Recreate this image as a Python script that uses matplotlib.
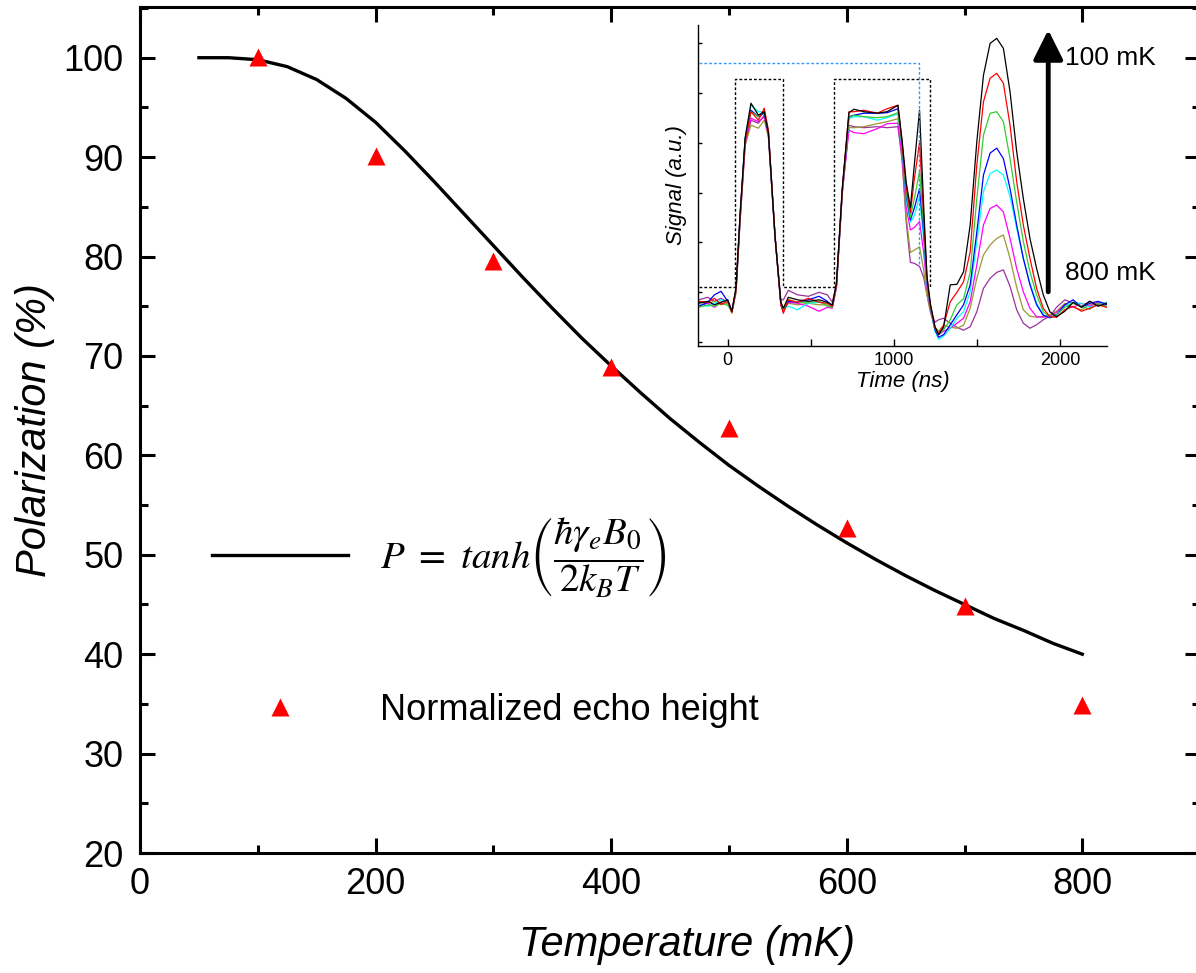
import matplotlib.pyplot as plt
from matplotlib.ticker import MultipleLocator

plt.rcParams['font.family'] = ['Liberation Sans', 'DejaVu Sans']
plt.rcParams['mathtext.fontset'] = 'stix'

# ---- main panel data ----
# fitted polarization curve
temp_fit = [50, 75, 100, 125, 150, 175, 200, 225, 250, 275, 300, 325, 350, 375, 400,
            425, 450, 475, 500, 525, 550, 575, 600, 625, 650, 675, 700, 725, 750, 775, 800]
pol_fit = [100.0, 100.0, 99.8, 99.1, 97.8, 95.9, 93.5, 90.6, 87.5, 84.3, 81.1, 77.9, 74.8, 71.8, 69.0,
           66.3, 63.7, 61.3, 59.0, 56.9, 54.9, 53.0, 51.2, 49.5, 47.9, 46.4, 45.0, 43.6, 42.4, 41.1, 40.0]

# measured echo heights
temp_meas = [100, 200, 300, 400, 500, 600, 700, 800]
pol_meas = [100.1, 90.1, 79.6, 68.9, 62.8, 52.7, 44.8, 34.9]

# ---- inset data ----
t_ns = [-175, -120, -80, -40, 0,
        25, 50, 75, 105, 140,
        185, 220, 245, 285, 320,
        335, 365, 420, 486, 550,
        600, 630, 655, 690, 730,
        760, 820, 900, 960, 1025,
        1050, 1075, 1100, 1125, 1155,
        1180, 1200, 1220, 1248, 1270,
        1300, 1340, 1380, 1420, 1460,
        1500, 1540, 1580, 1620, 1660,
        1700, 1740, 1780, 1820, 1860,
        1900, 1940, 1980, 2030, 2080,
        2130, 2180, 2230, 2280]

sig_100 = [0.78, 0.82, 0.75, 0.80, 0.85,
           0.62, 1.10, 2.60, 4.10, 4.79,
           4.55, 4.62, 4.20, 2.11, 0.80,
           0.68, 0.90, 0.85, 0.82, 0.85,
           0.80, 0.75, 1.20, 3.10, 4.60,
           4.67, 4.62, 4.59, 4.62, 4.75,
           4.05, 3.20, 2.70, 3.60, 4.65,
           2.72, 1.31, 0.78, 0.31, 0.15,
           0.30, 1.15, 1.16, 1.41, 2.35,
           4.02, 5.35, 5.99, 6.09, 5.89,
           5.02, 3.82, 2.88, 2.08, 1.48,
           0.95, 0.61, 0.51, 0.62, 0.80,
           0.70, 0.82, 0.72, 0.78]
sig_200 = [0.82, 0.80, 0.88, 0.76, 0.82,
           0.60, 1.05, 2.55, 4.05, 4.62,
           4.45, 4.69, 4.25, 2.15, 0.75,
           0.58, 0.85, 0.80, 0.88, 0.80,
           0.78, 0.72, 1.15, 3.05, 4.62,
           4.62, 4.65, 4.59, 4.68, 4.75,
           4.00, 3.10, 2.60, 3.30, 4.00,
           2.50, 1.30, 0.75, 0.30, 0.18,
           0.34, 0.81, 1.00, 1.21, 1.81,
           3.55, 4.82, 5.29, 5.39, 5.19,
           4.35, 3.22, 2.35, 1.68, 1.08,
           0.68, 0.51, 0.50, 0.65, 0.72,
           0.62, 0.68, 0.75, 0.70]
sig_300 = [0.70, 0.75, 0.72, 0.78, 0.74,
           0.62, 1.05, 2.55, 4.05, 4.62,
           4.52, 4.62, 4.22, 2.12, 0.78,
           0.65, 0.85, 0.80, 0.80, 0.82,
           0.72, 0.70, 1.15, 3.05, 4.50,
           4.55, 4.52, 4.50, 4.52, 4.60,
           3.95, 3.00, 2.50, 2.90, 3.42,
           2.30, 1.25, 0.72, 0.28, 0.15,
           0.25, 0.45, 0.75, 0.87, 1.40,
           2.88, 4.15, 4.59, 4.62, 4.42,
           3.68, 2.81, 2.02, 1.41, 0.95,
           0.61, 0.51, 0.55, 0.70, 0.78,
           0.72, 0.66, 0.78, 0.72]
sig_400 = [0.72, 0.80, 0.95, 1.02, 0.82,
           0.62, 1.05, 2.55, 4.05, 4.65,
           4.52, 4.59, 4.20, 2.12, 0.78,
           0.65, 0.82, 0.80, 0.85, 0.92,
           0.82, 0.72, 1.15, 3.05, 4.52,
           4.55, 4.59, 4.59, 4.60, 4.68,
           3.95, 2.95, 2.45, 2.70, 3.08,
           2.20, 1.22, 0.72, 0.25, 0.10,
           0.15, 0.35, 0.55, 0.75, 1.15,
           2.21, 3.35, 3.79, 3.89, 3.68,
           3.08, 2.35, 1.68, 1.15, 0.75,
           0.54, 0.49, 0.55, 0.75, 0.85,
           0.70, 0.78, 0.82, 0.76]
sig_500 = [0.75, 0.72, 0.78, 0.85, 0.80,
           0.62, 1.05, 2.55, 4.10, 4.75,
           4.62, 4.62, 4.22, 2.12, 0.78,
           0.68, 0.72, 0.65, 0.78, 0.80,
           0.78, 0.72, 1.15, 3.05, 4.48,
           4.52, 4.52, 4.45, 4.50, 4.58,
           3.90, 2.85, 2.40, 2.55, 2.92,
           2.05, 1.18, 0.70, 0.22, 0.06,
           0.12, 0.28, 0.48, 0.61, 1.01,
           2.02, 3.02, 3.38, 3.45, 3.35,
           2.92, 2.28, 1.68, 1.18, 0.78,
           0.55, 0.49, 0.55, 0.72, 0.80,
           0.78, 0.70, 0.75, 0.80]
sig_600 = [0.72, 0.78, 0.70, 0.80, 0.85,
           0.62, 1.05, 2.50, 4.00, 4.49,
           4.42, 4.52, 4.15, 2.10, 0.75,
           0.62, 0.80, 0.78, 0.72, 0.62,
           0.70, 0.68, 1.10, 3.00, 4.25,
           4.20, 4.18, 4.28, 4.38, 4.39,
           3.75, 2.70, 2.25, 2.30, 2.42,
           1.80, 1.10, 0.65, 0.25, 0.15,
           0.22, 0.28, 0.38, 0.48, 0.81,
           1.55, 2.35, 2.68, 2.75, 2.61,
           2.08, 1.48, 1.01, 0.68, 0.51,
           0.50, 0.52, 0.60, 0.75, 0.70,
           0.78, 0.72, 0.80, 0.75]
sig_700 = [0.80, 0.78, 0.82, 0.75, 0.78,
           0.58, 1.00, 2.45, 3.95, 4.35,
           4.29, 4.45, 4.10, 2.10, 0.75,
           0.65, 0.78, 0.75, 0.78, 0.75,
           0.75, 0.70, 1.10, 3.00, 4.30,
           4.30, 4.32, 4.38, 4.42, 4.48,
           3.70, 2.50, 1.80, 1.85, 1.91,
           1.45, 0.95, 0.60, 0.30, 0.22,
           0.34, 0.30, 0.28, 0.34, 0.68,
           1.28, 1.75, 1.95, 2.08, 2.15,
           1.68, 1.10, 0.65, 0.52, 0.50,
           0.52, 0.55, 0.62, 0.78, 0.70,
           0.65, 0.75, 0.80, 0.72]
sig_800 = [0.85, 0.90, 0.82, 0.88, 0.80,
           0.60, 1.00, 2.45, 3.95, 4.45,
           4.39, 4.55, 4.15, 2.12, 0.85,
           0.85, 1.04, 0.95, 0.92, 1.00,
           0.95, 0.80, 1.15, 3.00, 4.35,
           4.32, 4.30, 4.32, 4.30, 4.32,
           3.65, 2.40, 1.60, 1.58, 1.52,
           1.30, 0.95, 0.65, 0.40, 0.45,
           0.48, 0.38, 0.30, 0.24, 0.31,
           0.61, 1.08, 1.28, 1.40, 1.45,
           1.12, 0.65, 0.38, 0.28, 0.35,
           0.45, 0.52, 0.70, 0.85, 0.78,
           0.72, 0.82, 0.74, 0.78]

traces = [sig_800, sig_700, sig_600, sig_500, sig_400, sig_300, sig_200, sig_100]
trace_colors = ['#993399', '#999933', '#ff00ff', '#00ffff', '#0000ff', '#33cc33', '#ff0000', '#000000']

# pulse sequence outline and the marker line
pulse_t = [-175, 44, 44, 331, 331, 642, 642, 1218, 1218]
pulse_v = [1.10, 1.10, 5.27, 5.27, 1.10, 1.10, 5.27, 5.27, 1.10]
mark_t = [-175, 1154, 1154]
mark_v = [5.60, 5.60, 1.50]

fig = plt.figure(figsize=(11.96, 9.73), dpi=100)
ax = fig.add_axes([0.1171, 0.1233, 0.8863, 0.8695])

line, = ax.plot(temp_fit, pol_fit, color='k', lw=2.4,
                label=r'$P\ =\ tanh\left(\dfrac{\hbar\gamma_e B_0}{2k_B T}\right)$')
pts, = ax.plot(temp_meas, pol_meas, ls='none', marker='^', ms=13, color='#ff0000',
               mec='none', label='Normalized echo height', zorder=3)

ax.set_xlim(0, 900)
ax.set_ylim(20, 105.1)
ax.xaxis.set_major_locator(MultipleLocator(200))
ax.xaxis.set_minor_locator(MultipleLocator(100))
ax.yaxis.set_major_locator(MultipleLocator(10))
ax.yaxis.set_minor_locator(MultipleLocator(5))
ax.set_xticks([0, 200, 400, 600, 800])
ax.tick_params(which='both', direction='in', top=True, right=True, width=2.2, labelsize=26)
ax.tick_params(which='major', length=11)
ax.tick_params(which='minor', length=6)
ax.tick_params(axis='y', pad=12)
ax.tick_params(axis='x', pad=10)
for s in ax.spines.values():
    s.set_linewidth(2.2)

ax.set_xlabel('Temperature (mK)', fontsize=30, style='italic')
ax.set_ylabel('Polarization (%)', fontsize=30, style='italic')
ax.xaxis.set_label_coords(0.516, -0.085)
ax.yaxis.set_label_coords(-0.08, 0.5)

leg = ax.legend(loc='upper left', bbox_to_anchor=(0.068, 0.4), frameon=False, fontsize=26,
                handlelength=3.75, handletextpad=0.9, labelspacing=2.6,
                borderpad=0, borderaxespad=0)
leg.get_texts()[0].set_fontsize(28)

# ---- inset ----
axin = fig.add_axes([0.5836, 0.6444, 0.342, 0.330])
for sig, c in zip(traces, trace_colors):
    axin.plot(t_ns, sig, color=c, lw=0.9)
axin.plot(pulse_t, pulse_v, color='k', lw=1.0, ls=(0, (2, 1.5)))
axin.plot(mark_t, mark_v, color='#3399ff', lw=1.0, ls=(0, (2, 1.5)))

axin.annotate('', xy=(1930, 6.26), xytext=(1930, 1.01),
              arrowprops=dict(arrowstyle='-|>', mutation_scale=45, lw=3.5, color='k',
                              shrinkA=0, shrinkB=0),
              annotation_clip=False)
axin.text(2031, 5.70, '100 mK', fontsize=19, va='center', ha='left', clip_on=False)
axin.text(2031, 1.39, '800 mK', fontsize=19, va='center', ha='left', clip_on=False)

axin.set_xlim(-179, 2284)
axin.set_ylim(-0.076, 6.36)
axin.xaxis.set_major_locator(MultipleLocator(1000))
axin.xaxis.set_minor_locator(MultipleLocator(500))
axin.yaxis.set_major_locator(MultipleLocator(1))
axin.set_yticklabels([])
axin.spines['top'].set_visible(False)
axin.spines['right'].set_visible(False)
for s in ['left', 'bottom']:
    axin.spines[s].set_linewidth(1.0)
axin.tick_params(which='both', direction='in', width=1.0, labelsize=13, pad=4)
axin.tick_params(which='major', length=5)
axin.tick_params(which='minor', length=5)
axin.tick_params(axis='y', length=3)
axin.set_xlabel('Time (ns)', fontsize=16, style='italic', labelpad=2)
axin.set_ylabel('Signal (a.u.)', fontsize=16, style='italic', labelpad=4)
axin.patch.set_alpha(0)

fig.savefig('out.png', dpi=100)
